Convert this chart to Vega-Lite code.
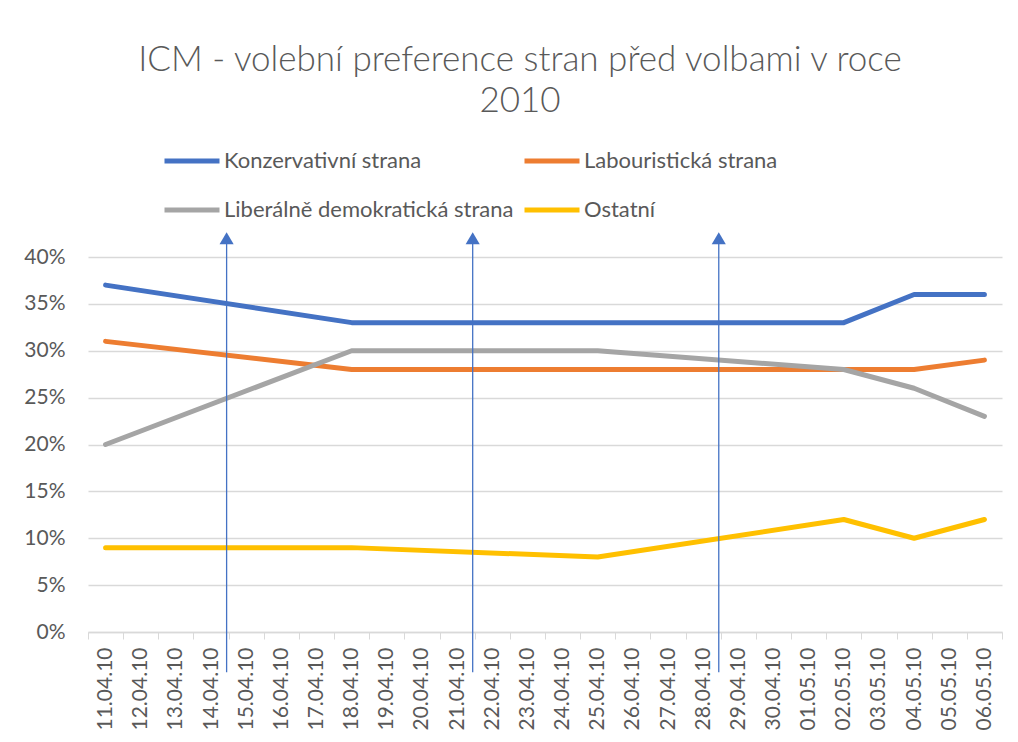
{
  "$schema": "https://vega.github.io/schema/vega-lite/v6.json",
  "autosize": "none",
  "width": 914,
  "height": 375,
  "padding": {"left": 88, "top": 257, "right": 16, "bottom": 110},
  "background": "white",
  "title": {
    "text": ["ICM - volební preference stran před volbami v roce", "2010"],
    "anchor": "middle",
    "frame": "group",
    "dx": -25,
    "offset": 12,
    "font": "Lato",
    "fontWeight": 300,
    "fontSize": 35,
    "lineHeight": 41,
    "color": "#595959"
  },
  "config": {
    "view": {"stroke": null},
    "font": "Lato",
    "axis": {
      "labelFont": "Lato",
      "labelFontSize": 21,
      "labelColor": "#595959",
      "title": null
    }
  },
  "datasets": {
    "pruzkumy": [
      {"datum": "11.04.10", "strana": "Konzervativní strana", "hodnota": 37},
      {"datum": "18.04.10", "strana": "Konzervativní strana", "hodnota": 33},
      {"datum": "25.04.10", "strana": "Konzervativní strana", "hodnota": 33},
      {"datum": "02.05.10", "strana": "Konzervativní strana", "hodnota": 33},
      {"datum": "04.05.10", "strana": "Konzervativní strana", "hodnota": 36},
      {"datum": "06.05.10", "strana": "Konzervativní strana", "hodnota": 36},
      {"datum": "11.04.10", "strana": "Labouristická strana", "hodnota": 31},
      {"datum": "18.04.10", "strana": "Labouristická strana", "hodnota": 28},
      {"datum": "25.04.10", "strana": "Labouristická strana", "hodnota": 28},
      {"datum": "02.05.10", "strana": "Labouristická strana", "hodnota": 28},
      {"datum": "04.05.10", "strana": "Labouristická strana", "hodnota": 28},
      {"datum": "06.05.10", "strana": "Labouristická strana", "hodnota": 29},
      {"datum": "11.04.10", "strana": "Liberálně demokratická strana", "hodnota": 20},
      {"datum": "18.04.10", "strana": "Liberálně demokratická strana", "hodnota": 30},
      {"datum": "25.04.10", "strana": "Liberálně demokratická strana", "hodnota": 30},
      {"datum": "02.05.10", "strana": "Liberálně demokratická strana", "hodnota": 28},
      {"datum": "04.05.10", "strana": "Liberálně demokratická strana", "hodnota": 26},
      {"datum": "06.05.10", "strana": "Liberálně demokratická strana", "hodnota": 23},
      {"datum": "11.04.10", "strana": "Ostatní", "hodnota": 9},
      {"datum": "18.04.10", "strana": "Ostatní", "hodnota": 9},
      {"datum": "25.04.10", "strana": "Ostatní", "hodnota": 8},
      {"datum": "02.05.10", "strana": "Ostatní", "hodnota": 12},
      {"datum": "04.05.10", "strana": "Ostatní", "hodnota": 10},
      {"datum": "06.05.10", "strana": "Ostatní", "hodnota": 12}
    ],
    "sipky": [
      {"datum": "15.04.10"},
      {"datum": "22.04.10"},
      {"datum": "29.04.10"}
    ]
  },
  "layer": [
    {
      "data": {"name": "pruzkumy"},
      "mark": {"type": "line", "strokeWidth": 5, "strokeCap": "round", "strokeJoin": "round"},
      "encoding": {
        "x": {
          "field": "datum",
          "type": "ordinal",
          "sort": null,
          "scale": {
            "type": "band",
            "paddingInner": 0,
            "paddingOuter": 0,
            "domain": ["11.04.10","12.04.10","13.04.10","14.04.10","15.04.10","16.04.10","17.04.10","18.04.10","19.04.10","20.04.10","21.04.10","22.04.10","23.04.10","24.04.10","25.04.10","26.04.10","27.04.10","28.04.10","29.04.10","30.04.10","01.05.10","02.05.10","03.05.10","04.05.10","05.05.10","06.05.10"]
          },
          "axis": {
            "labelAngle": -90,
            "labelPadding": 8,
            "tickBand": "extent",
            "tickColor": "#d9d9d9",
            "tickSize": 7,
            "domainColor": "#d9d9d9",
            "domainWidth": 1.5,
            "grid": false
          }
        },
        "y": {
          "field": "hodnota",
          "type": "quantitative",
          "scale": {"domain": [0, 40], "nice": false, "zero": true},
          "axis": {
            "values": [0, 5, 10, 15, 20, 25, 30, 35, 40],
            "labelExpr": "datum.value + '%'",
            "labelPadding": 23,
            "domain": false,
            "ticks": false,
            "grid": true,
            "gridColor": "#d9d9d9",
            "gridWidth": 1.3
          }
        },
        "color": {
          "field": "strana",
          "type": "nominal",
          "scale": {
            "domain": ["Konzervativní strana", "Labouristická strana", "Liberálně demokratická strana", "Ostatní"],
            "range": ["#4472C4", "#ED7D31", "#A5A5A5", "#FFC000"]
          },
          "legend": {
            "orient": "none",
            "legendX": 74,
            "legendY": -126,
            "direction": "horizontal",
            "columns": 2,
            "title": null,
            "symbolType": "stroke",
            "symbolSize": 3025,
            "symbolStrokeWidth": 5,
            "labelFont": "Lato",
            "labelFontSize": 22,
            "labelColor": "#595959",
            "labelOffset": 2,
            "columnPadding": 0,
            "rowPadding": 8,
            "labelLimit": 400
          }
        }
      }
    },
    {
      "data": {"name": "sipky"},
      "mark": {"type": "rule", "color": "#4472C4", "strokeWidth": 1.3, "xOffset": -2},
      "encoding": {
        "x": {"field": "datum", "type": "ordinal", "bandPosition": 0},
        "y": {"datum": -4.3, "type": "quantitative"},
        "y2": {"datum": 41.4}
      }
    },
    {
      "data": {"name": "sipky"},
      "mark": {"type": "point", "shape": "triangle-up", "filled": true, "opacity": 1, "size": 200, "color": "#4472C4", "xOffset": -2},
      "encoding": {
        "x": {"field": "datum", "type": "ordinal", "bandPosition": 0},
        "y": {"datum": 42.0, "type": "quantitative"}
      }
    }
  ]
}
